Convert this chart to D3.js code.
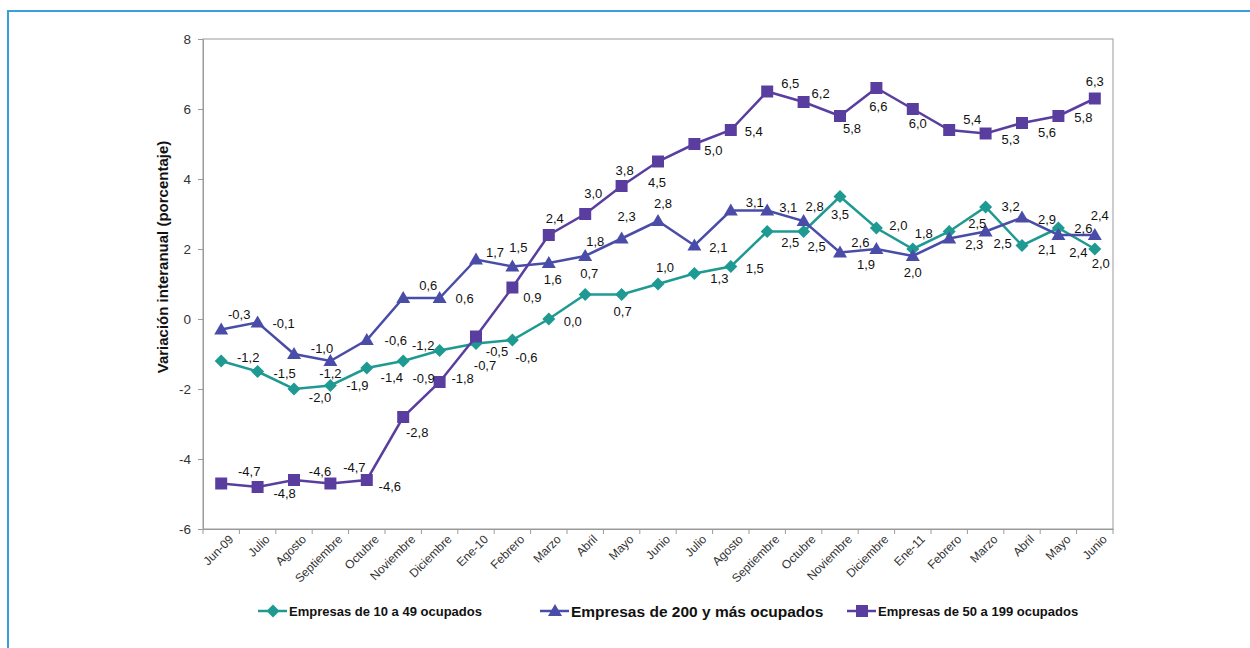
<!DOCTYPE html>
<html>
<head>
<meta charset="utf-8">
<script src="https://cdn.jsdelivr.net/npm/d3@7"></script>
<style>
	body { margin: 0; background: #fff; }
	svg { display: block; font-family: "Liberation Sans", Arial, sans-serif; }
	.axis path, .axis line { stroke: #9a9a9a; }
	.axis text { fill: #333; }
	.lbl { font-size: 13px; fill: #111; }
	.legend text { font-weight: bold; fill: #111; }
</style>
</head>
<body>
<svg></svg>
<script>
// categories (one per month, jun-09 .. jun-11)
const months = ['Jun-09', 'Julio', 'Agosto', 'Septiembre', 'Octubre', 'Noviembre', 'Diciembre',
	'Ene-10', 'Febrero', 'Marzo', 'Abril', 'Mayo', 'Junio', 'Julio', 'Agosto', 'Septiembre',
	'Octubre', 'Noviembre', 'Diciembre', 'Ene-11', 'Febrero', 'Marzo', 'Abril', 'Mayo', 'Junio']

const yTicks = [-6, -4, -2, 0, 2, 4, 6, 8]

// series values
const small = [-1.2, -1.5, -2.0, -1.9, -1.4, -1.2, -0.9, -0.7, -0.6, 0.0, 0.7, 0.7, 1.0, 1.3,
	1.5, 2.5, 2.5, 3.5, 2.6, 2.0, 2.5, 3.2, 2.1, 2.6, 2.0]
const large = [-0.3, -0.1, -1.0, -1.2, -0.6, 0.6, 0.6, 1.7, 1.5, 1.6, 1.8, 2.3, 2.8, 2.1,
	3.1, 3.1, 2.8, 1.9, 2.0, 1.8, 2.3, 2.5, 2.9, 2.4, 2.4]
const medium = [-4.7, -4.8, -4.6, -4.7, -4.6, -2.8, -1.8, -0.5, 0.9, 2.4, 3.0, 3.8, 4.5, 5.0,
	5.4, 6.5, 6.2, 5.8, 6.6, 6.0, 5.4, 5.3, 5.6, 5.8, 6.3]

// where each data label sits relative to its point (dx, dy)
const smallLbl = [[27,-4],[27,2],[26,8],[27,0],[25,9],[20,-16],[-16,28],[9,22],[14,17],[24,2],
	[4,-21],[1,17],[7,-17],[25,5],[24,2],[23,11],[13,15],[0,18],[-16,14],[0,23],[28,-8],[25,-1],
	[25,4],[25,0],[6,14]]
const largeLbl = [[18,-15],[26,1],[28,-6],[0,12],[29,0],[25,-13],[25,0],[19,-7],[6,-19],[4,16],
	[10,-15],[5,-22],[5,-18],[24,2],[24,-8],[21,-3],[11,-15],[26,12],[22,-24],[11,-23],[25,6],
	[17,12],[25,2],[20,17],[5,-20]]
const mediumLbl = [[28,-12],[27,6],[26,-9],[24,-16],[23,6],[14,15],[23,-4],[21,15],[20,10],
	[6,-17],[8,-21],[3,-16],[-1,21],[19,6],[23,1],[23,-8],[17,-9],[12,12],[2,18],[5,14],[23,-11],
	[25,6],[25,9],[25,1],[0,-17]]

const series = [
	{name: 'Empresas de 10 a 49 ocupados', values: small, lbl: smallLbl, color: '#1f9a92', shape: 'diamond', legendX: 258, fs: 13},
	{name: 'Empresas de 200 y más ocupados', values: large, lbl: largeLbl, color: '#4a4da8', shape: 'triangle', legendX: 540, fs: 15.5},
	{name: 'Empresas de 50 a 199 ocupados', values: medium, lbl: mediumLbl, color: '#5a3e9f', shape: 'square', legendX: 847, fs: 13},
]

const W = 1250, H = 648
const plot = {left: 203, top: 39, right: 1113, bottom: 529}

const svg = d3.select('svg').attr('width', W).attr('height', H)

// outer frame (only top and left edges show)
svg.append('path')
	.attr('d', `M8,${H} V11 H${W}`)
	.attr('fill', 'none')
	.attr('stroke', '#3a9fd8')
	.attr('stroke-width', 2)

const x = d3.scaleBand().domain(d3.range(months.length)).range([plot.left, plot.right])
const y = d3.scaleLinear().domain([-6, 8]).range([plot.bottom, plot.top])

// plot area border
svg.append('rect')
	.attr('x', plot.left).attr('y', plot.top)
	.attr('width', plot.right - plot.left).attr('height', plot.bottom - plot.top)
	.attr('fill', 'none').attr('stroke', '#9a9a9a')

// Y axis
svg.append('g')
	.attr('class', 'axis')
	.attr('transform', `translate(${plot.left},0)`)
	.call(d3.axisLeft(y).tickValues(yTicks).tickSize(5).tickPadding(7).tickFormat(d => d))
	.call(g => g.selectAll('text').style('font-size', '13.5px'))

// X axis - labels at category centres, ticks on the boundaries
const xa = svg.append('g')
	.attr('class', 'axis')
	.attr('transform', `translate(0,${plot.bottom})`)
	.call(d3.axisBottom(x).tickSize(0).tickFormat(i => months[i]))
xa.selectAll('.tick text')
	.style('font-size', '12px')
	.attr('text-anchor', 'end')
	.attr('transform', 'translate(7,5) rotate(-45)')
	.attr('dy', '0.7em')
	.attr('y', 0)
	.attr('x', 0)
xa.selectAll('.bound')
	.data(d3.range(months.length + 1))
	.enter().append('line')
	.attr('x1', i => plot.left + i * x.step())
	.attr('x2', i => plot.left + i * x.step())
	.attr('y1', 0).attr('y2', 5)
	.attr('stroke', '#9a9a9a')

// Y title
svg.append('text')
	.attr('transform', 'translate(168,257) rotate(-90)')
	.attr('text-anchor', 'middle')
	.style('font-size', '15px')
	.style('font-weight', 'bold')
	.style('fill', '#111')
	.text('Variación interanual (porcentaje)')

function marker(shape) {
	if (shape === 'diamond') return 'M0,-6.5L6.5,0L0,6.5L-6.5,0Z'
	if (shape === 'triangle') return 'M0,-7L7,5L-7,5Z'
	return 'M-6,-6H6V6H-6Z'
}

const cx = i => x(i) + x.bandwidth() / 2
const fmt = v => v.toFixed(1).replace('.', ',')

series.forEach(s => {
	const g = svg.append('g')
	g.append('path')
		.datum(s.values)
		.attr('fill', 'none')
		.attr('stroke', s.color)
		.attr('stroke-width', 2.5)
		.attr('d', d3.line().x((d, i) => cx(i)).y(d => y(d)))
	g.selectAll('path.mk')
		.data(s.values).enter()
		.append('path')
		.attr('class', 'mk')
		.attr('d', marker(s.shape))
		.attr('transform', (d, i) => `translate(${cx(i)},${y(d)})`)
		.attr('fill', s.color)
})

// data labels on top
series.forEach(s => {
	svg.append('g').selectAll('text')
		.data(s.values).enter()
		.append('text')
		.attr('class', 'lbl')
		.attr('x', (d, i) => cx(i) + s.lbl[i][0])
		.attr('y', (d, i) => y(d) + s.lbl[i][1])
		.attr('text-anchor', 'middle')
		.attr('dominant-baseline', 'central')
		.text(fmt)
})

// legend
const lg = svg.append('g').attr('class', 'legend')
series.forEach(s => {
	const it = lg.append('g').attr('transform', `translate(${s.legendX},611)`)
	it.append('line')
		.attr('x1', 0).attr('x2', 29)
		.attr('stroke', s.color).attr('stroke-width', 2.5)
	it.append('path')
		.attr('d', marker(s.shape))
		.attr('transform', 'translate(15,0)')
		.attr('fill', s.color)
	it.append('text')
		.attr('x', 31)
		.attr('dominant-baseline', 'central')
		.style('font-size', s.fs + 'px')
		.text(s.name)
})
</script>
</body>
</html>
